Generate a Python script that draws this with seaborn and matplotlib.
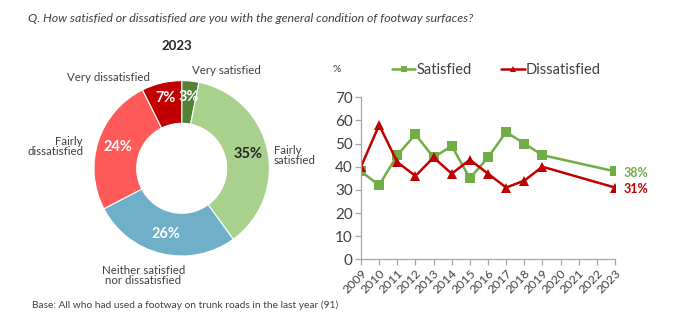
import matplotlib
matplotlib.use("Agg")
import matplotlib.pyplot as plt
import seaborn as sns
import pandas as pd
import numpy as np

# ---- text ----
question = "Q. How satisfied or dissatisfied are you with the general condition of footway surfaces?"
base_note = "Base: All who had used a footway on trunk roads in the last year (91)"
donut_title = "2023"

# ---- donut data (2023) ----
donut_categories = ["Very satisfied", "Fairly\nsatisfied", "Neither satisfied\nnor dissatisfied",
                    "Fairly\ndissatisfied", "Very dissatisfied"]
donut_values = [3, 35, 26, 24, 7]
donut_colors = ["#548235", "#A9D18E", "#6FAFC8", "#FF5A5A", "#C00000"]
donut_pct_colors = ["white", "#262626", "white", "white", "white"]

# ---- trend data ----
years = [2009, 2010, 2011, 2012, 2013, 2014, 2015, 2016, 2017, 2018, 2019, 2023]
satisfied = [38, 32, 45, 54, 44, 49, 35, 44, 55, 50, 45, 38]
dissatisfied = [40, 58, 42, 36, 44, 37, 43, 37, 31, 34, 40, 31]
year_ticks = list(range(2009, 2024))
y_ticks = [0, 10, 20, 30, 40, 50, 60, 70]
series_names = ["Satisfied", "Dissatisfied"]
series_colors = {"Satisfied": "#70AD47", "Dissatisfied": "#C00000"}
series_markers = {"Satisfied": "s", "Dissatisfied": "^"}

sns.set_theme(style="white")
plt.rcParams["font.family"] = ["Lato", "DejaVu Sans"]
TXT = "#404040"
AXC = "#A6A6A6"

W, H = 680, 328
fig = plt.figure(figsize=(W / 100, H / 100), dpi=100)


def px(x, y):
    """pixel position (from top-left) -> figure fraction"""
    return x / W, 1 - y / H


# ---- header / footer ----
fig.text(*px(28, 18), question, fontsize=8.9, style="italic", color=TXT, va="center", ha="left")
fig.text(*px(32, 305), base_note, fontsize=7.3, color=TXT, va="center", ha="left")

# ---- donut ----
cx, cy, R = 181.7, 168.3, 87.7
ax_l, ax_r, ax_t, ax_b = 10, 330, 35, 300
axd = fig.add_axes([ax_l / W, 1 - ax_b / H, (ax_r - ax_l) / W, (ax_b - ax_t) / H])
wedges, _, pct_texts = axd.pie(
    donut_values, colors=donut_colors, startangle=90, counterclock=False,
    radius=1, autopct=lambda p: f"{p * sum(donut_values) / 100:.0f}%", pctdistance=0.77,
    wedgeprops=dict(width=0.487, edgecolor="white", linewidth=0.8),
)
for w, t, c, v in zip(wedges, pct_texts, donut_pct_colors, donut_values):
    t.set_color(c)
    t.set_fontweight("bold")
    t.set_fontsize(10.5)
    # thin slices: push the label a little further out along the wedge's middle
    if v < 10:
        ang = np.deg2rad((w.theta1 + w.theta2) / 2)
        t.set_position((0.82 * np.cos(ang), 0.82 * np.sin(ang)))
axd.set_aspect("auto")
axd.set_xlim((ax_l - cx) / R, (ax_r - cx) / R)
axd.set_ylim((cy - ax_b) / R, (cy - ax_t) / R)
axd.axis("off")

fig.text(*px(176.7, 46), donut_title, fontsize=9.5, fontweight="bold", color="#262626", ha="center", va="center")
label_pos = [
    (191.5, 70, "left"),
    (274, 155.5, "left"),
    (143.3, 275.5, "center"),
    (83, 146.5, "right"),
    (108.5, 77.5, "center"),
]
for name, (x, y, ha) in zip(donut_categories, label_pos):
    fig.text(*px(x, y), name, fontsize=8.3, color=TXT, ha=ha, va="center",
             multialignment=ha, linespacing=0.95)

# ---- trend lines ----
df = pd.DataFrame({"year": years * 2,
                   "value": satisfied + dissatisfied,
                   "series": [series_names[0]] * len(years) + [series_names[1]] * len(years)})

x0, x1, y0, y1 = 361, 615, 97.3, 259.3
axl = fig.add_axes([x0 / W, 1 - y1 / H, (x1 - x0) / W, (y1 - y0) / H])
sns.lineplot(data=df, x="year", y="value", hue="series", style="series",
             palette=series_colors, markers=series_markers, dashes=False,
             linewidth=1.8, markersize=6.5, markeredgewidth=0, ax=axl, legend=False)
axl.set_xlim(year_ticks[0], year_ticks[-1])
axl.set_ylim(y_ticks[0], y_ticks[-1])
axl.set_xticks(year_ticks)
axl.set_xticklabels([str(y) for y in year_ticks], rotation=45, ha="right",
                    rotation_mode="anchor", fontsize=8.8, color=TXT)
axl.set_yticks(y_ticks)
axl.set_yticklabels([str(v) for v in y_ticks], fontsize=11, color=TXT)
axl.set_xlabel("")
axl.set_ylabel("")
for s in ["top", "right"]:
    axl.spines[s].set_visible(False)
for s in ["left", "bottom"]:
    axl.spines[s].set_color(AXC)
    axl.spines[s].set_linewidth(0.9)
axl.tick_params(axis="both", which="major", direction="out", length=4, width=0.9,
                color=AXC, pad=2, left=True, bottom=True)
axl.grid(False)

for name, vals in zip(series_names, [satisfied, dissatisfied]):
    axl.annotate(f"{vals[-1]}%", xy=(years[-1], vals[-1]), xytext=(6, -1),
                 textcoords="offset points", va="center", ha="left",
                 fontsize=9, fontweight="bold", color=series_colors[name],
                 annotation_clip=False)

fig.text(*px(337, 70), "%", fontsize=7.5, color=TXT, ha="center", va="center")

handles = [plt.Line2D([], [], color=series_colors[n], marker=series_markers[n],
                      markersize=5, markeredgewidth=0, linewidth=1.8) for n in series_names]
fig.legend(handles, series_names, loc="center left", bbox_to_anchor=px(392, 70),
           ncol=2, frameon=False, fontsize=10.5, handlelength=1.6, handletextpad=0.1,
           columnspacing=2.0, labelcolor=TXT, borderaxespad=0, borderpad=0)

fig.savefig("out.png", dpi=100)
